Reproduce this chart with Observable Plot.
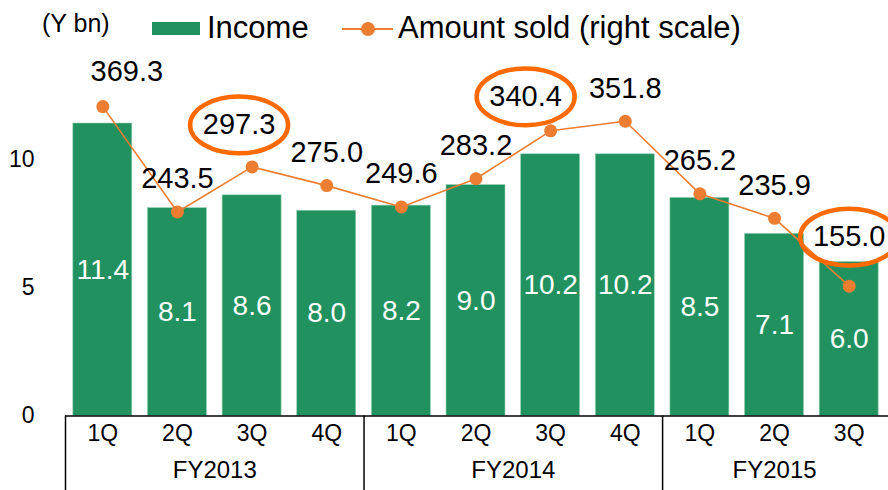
<!DOCTYPE html>
<html>
<head>
<meta charset="utf-8">
<script src="https://cdn.jsdelivr.net/npm/d3@7"></script>
<script src="https://cdn.jsdelivr.net/npm/@observablehq/plot@0.6"></script>
<style>
  html, body { margin: 0; padding: 0; background: #fff; }
  #wrap { position: relative; width: 888px; height: 490px; font-family: "Liberation Sans", Arial, sans-serif; color: #000; }
  #wrap svg { display: block; }
  .lg { position: absolute; white-space: nowrap; line-height: 1; }
</style>
</head>
<body>
<div id="wrap">
  <div class="lg" style="left:42px; top:11px; font-size:25px;">(Y bn)</div>
  <div class="lg" style="left:152px; top:22px; width:48px; height:13px; background:#219160;"></div>
  <div class="lg" style="left:207px; top:12px; font-size:31px;">Income</div>
  <div class="lg" style="left:342px; top:28px; width:51px; height:2px; background:#ED7D31;"></div>
  <div class="lg" style="left:361px; top:22px; width:14px; height:14px; border-radius:50%; background:#ED7D31;"></div>
  <div class="lg" style="left:398px; top:12px; font-size:31px;">Amount sold (right scale)</div>
</div>
<script>
// ---- data ----
const fiscalYears = ["FY2013","FY2013","FY2013","FY2013","FY2014","FY2014","FY2014","FY2014","FY2015","FY2015","FY2015"];
const quarters    = ["1Q","2Q","3Q","4Q","1Q","2Q","3Q","4Q","1Q","2Q","3Q"];
const income      = [11.4, 8.1, 8.6, 8.0, 8.2, 9.0, 10.2, 10.2, 8.5, 7.1, 6.0];
const amountSold  = [369.3, 243.5, 297.3, 275.0, 249.6, 283.2, 340.4, 351.8, 265.2, 235.9, 155.0];
const yTicks      = [0, 5, 10];
const highlighted = ["FY2013 3Q", "FY2014 3Q", "FY2015 3Q"];
const leftMax = 16, rightMax = 490;   // left scale (Y bn) vs hidden right scale

// ---- layout / style ----
const W = 888, H = 490, ML = 65, MR = 2, MT = 5, MB = 74.5;
const green = "#219160", orange = "#ED7D31", ring = "#FF6A00";

const rows = quarters.map((q, i) => ({
  key: `${fiscalYears[i]} ${q}`, q, fy: fiscalYears[i],
  income: income[i], amount: amountSold[i],
  yAmt: amountSold[i] * leftMax / rightMax
}));
const step = (W - ML - MR) / rows.length;
const groups = d3.groups(rows, d => d.fy).map(([fy, rs]) => ({fy, first: rs[0].key, n: rs.length}));

// manual label nudges (as in the original chart)
const nudge = {
  "FY2013 1Q": [24, -35],
  "FY2013 3Q": [-13, -42],
  "FY2014 3Q": [-25, -34],
  "FY2015 3Q": [0, -49]
};
const defaultNudge = [0, -33];

const ellipseSymbol = {
  draw(ctx, size) {
    const rx = Math.sqrt(size / Math.PI), ry = rx * 0.58, k = 0.5523;
    ctx.moveTo(rx, 0);
    ctx.bezierCurveTo(rx, k * ry, k * rx, ry, 0, ry);
    ctx.bezierCurveTo(-k * rx, ry, -rx, k * ry, -rx, 0);
    ctx.bezierCurveTo(-rx, -k * ry, -k * rx, -ry, 0, -ry);
    ctx.bezierCurveTo(k * rx, -ry, rx, -k * ry, rx, 0);
    ctx.closePath();
  }
};

const amountLabels = rows.map(r => {
  const [dx, dy] = nudge[r.key] || defaultNudge;
  return Plot.text([r], {x: "key", y: "yAmt", text: d => d.amount.toFixed(1), dx, dy, fontSize: 29, fill: "#000"});
});
const rings = rows.filter(r => highlighted.includes(r.key)).map(r => {
  const [dx, dy] = nudge[r.key];
  return Plot.dot([r], {x: "key", y: "yAmt", dx, dy, r: 49, symbol: ellipseSymbol, fill: "none", stroke: ring, strokeWidth: 4.5});
});
const fyLabels = groups.map(g =>
  Plot.text([g], {x: "first", text: "fy", frameAnchor: "bottom", dy: 62, dx: (g.n - 1) / 2 * step, fontSize: 24, fill: "#000"})
);

const chart = Plot.plot({
  width: W, height: H,
  marginLeft: ML, marginRight: MR, marginTop: MT, marginBottom: MB,
  style: {fontFamily: "Liberation Sans, Arial, sans-serif", color: "#000", background: "transparent"},
  x: {type: "band", domain: rows.map(d => d.key), paddingInner: 0.21, paddingOuter: 0.105, round: false, axis: null},
  y: {domain: [0, leftMax], axis: null},
  marks: [
    Plot.barY(rows, {x: "key", y: "income", fill: green, stroke: "#8fd0b0", strokeWidth: 0.6}),
    Plot.text(rows, {x: "key", y: d => d.income / 2, text: d => d.income.toFixed(1), fill: "white", fontSize: 28}),
    Plot.line(rows, {x: "key", y: "yAmt", stroke: orange, strokeWidth: 1.6}),
    Plot.dot(rows, {x: "key", y: "yAmt", r: 6.5, fill: orange, stroke: "none"}),
    ...amountLabels,
    ...rings,
    Plot.ruleY([0], {stroke: "#000", strokeWidth: 1.5, insetRight: -MR}),
    Plot.ruleX(groups, {x: "first", dx: -step / 2, insetTop: H - MT - MB, insetBottom: -MB, stroke: "#000", strokeWidth: 1.5}),
    Plot.text(rows, {x: "key", text: "q", frameAnchor: "bottom", dy: 25, fontSize: 23, fill: "#000"}),
    ...fyLabels,
    Plot.axisY({ticks: yTicks, tickSize: 0, tickPadding: 31, fontSize: 23, label: null, fill: "#000"})
  ]
});
document.getElementById("wrap").prepend(chart);
</script>
</body>
</html>
